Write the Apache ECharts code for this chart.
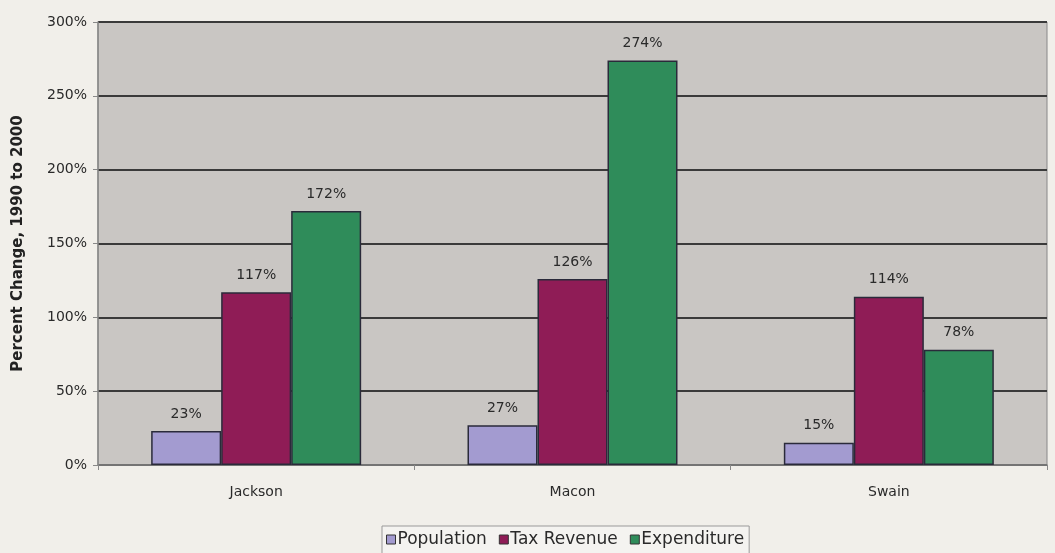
<!DOCTYPE html>
<html>
<head>
<meta charset="utf-8">
<script src="https://cdn.jsdelivr.net/npm/echarts@6/dist/echarts.min.js"></script>
<style>
  html, body { margin: 0; padding: 0; background: #f1efea; }
  #chart { width: 1055px; height: 553px; }
</style>
</head>
<body>
<div id="chart"></div>
<script>
const counties = ['Jackson', 'Macon', 'Swain'];
const population = [23, 27, 15];
const taxRevenue = [117, 126, 114];
const expenditure = [172, 274, 78];

const FONT = 'DejaVu Sans, Verdana, sans-serif';

const chart = echarts.init(document.getElementById('chart'));

// 막대 공통 스타일
const makeSeries = (name, data, color) => ({
  name,
  type: 'bar',
  data,
  barWidth: 70,
  barGap: '0%',
  itemStyle: { color, borderColor: '#2a2a3a', borderWidth: 1.5 },
  label: {
    show: true,
    position: 'top',
    distance: 10,
    formatter: p => p.value + '%',
    color: '#2a2a2a',
    fontSize: 14,
    fontFamily: FONT
  }
});

chart.setOption({
  animation: false,
  backgroundColor: '#f1efea',
  textStyle: { fontFamily: FONT },
  grid: {
    left: 98, right: 8, top: 22, bottom: 88,
    outerBoundsMode: 'none',
    show: true, backgroundColor: '#c9c6c3', borderColor: '#888', borderWidth: 1
  },
  xAxis: {
    type: 'category',
    data: counties,
    axisLine: { lineStyle: { color: '#888', width: 1.5 } },
    axisTick: { show: true, length: 5, lineStyle: { color: '#888' } },
    axisLabel: { color: '#2a2a2a', fontSize: 14, margin: 20, fontFamily: FONT }
  },
  yAxis: {
    type: 'value',
    min: 0,
    max: 300,
    interval: 50,
    name: 'Percent Change, 1990 to 2000',
    nameLocation: 'middle',
    nameGap: 72,
    nameTextStyle: { color: '#222', fontSize: 15, fontWeight: 'bold', fontFamily: FONT },
    axisLine: { show: true, lineStyle: { color: '#888', width: 1.5 } },
    axisTick: { show: true, length: 5, lineStyle: { color: '#888' } },
    axisLabel: { color: '#2a2a2a', fontSize: 14, margin: 11, fontFamily: FONT, formatter: v => v + '%' },
    splitLine: { lineStyle: { color: '#3a3a3a', width: 2 } }
  },
  legend: {
    top: 526,
    left: 382,
    icon: 'rect',
    itemWidth: 9,
    itemHeight: 9,
    itemGap: 12,
    padding: [5, 5, 10, 4],
    borderColor: '#999',
    borderWidth: 1,
    backgroundColor: '#f4f3f0',
    itemStyle: { borderColor: '#333', borderWidth: 1 },
    textStyle: { color: '#2a2a2a', fontSize: 17, fontFamily: FONT, padding: [0, 0, 0, -3] },
    data: ['Population', 'Tax Revenue', 'Expenditure']
  },
  series: [
    makeSeries('Population', population, '#a39bd0'),
    makeSeries('Tax Revenue', taxRevenue, '#8f1c56'),
    makeSeries('Expenditure', expenditure, '#2f8c5a')
  ]
});
</script>
</body>
</html>
